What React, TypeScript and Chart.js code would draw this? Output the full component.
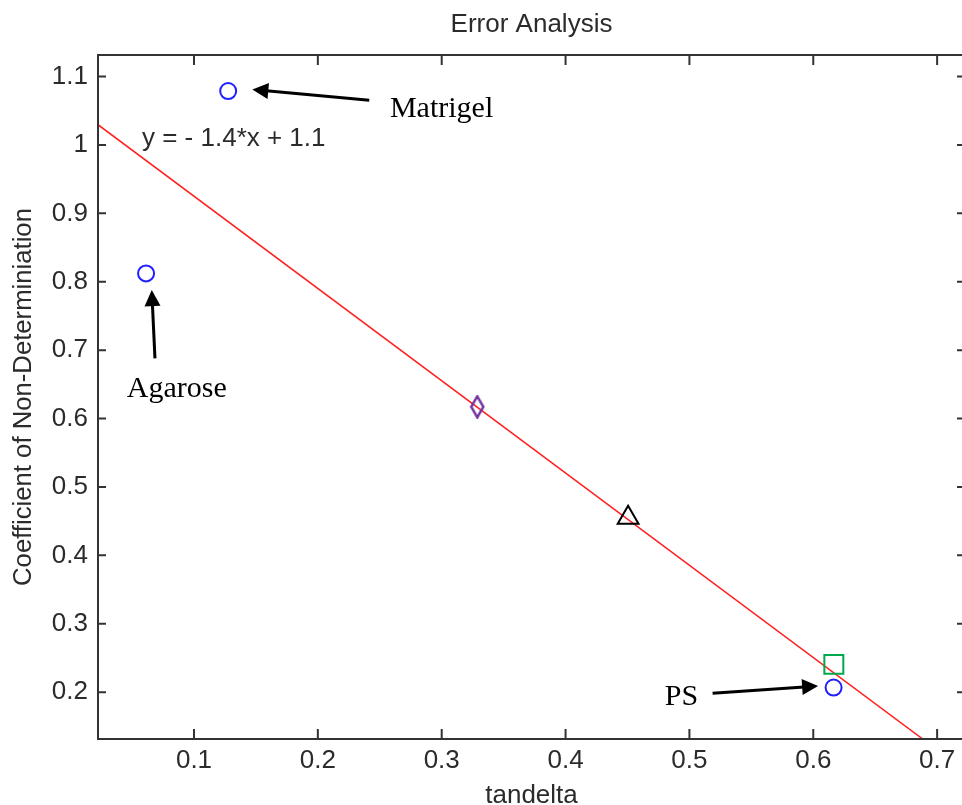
import React, { useEffect, useRef } from 'react';
import { Chart, registerables } from 'chart.js';

Chart.register(...registerables);

// ---- data ----
const xTicks = [0.1, 0.2, 0.3, 0.4, 0.5, 0.6, 0.7];
const xTickLabels = ['0.1', '0.2', '0.3', '0.4', '0.5', '0.6', '0.7'];
const yTicks = [0.2, 0.3, 0.4, 0.5, 0.6, 0.7, 0.8, 0.9, 1.0, 1.1];
const yTickLabels = ['0.2', '0.3', '0.4', '0.5', '0.6', '0.7', '0.8', '0.9', '1', '1.1'];

const circleX = [0.1276, 0.0613, 0.6164];
const circleY = [1.0788, 0.8122, 0.2067];
const diamondX = [0.3287];
const diamondY = [0.6172];
const triangleX = [0.4505];
const triangleY = [0.455];
const squareX = [0.6166];
const squareY = [0.2406];
const fitX = [0.0225, 0.6881];
const fitY = [1.0296, 0.1318];

const labelTexts = ['Matrigel', 'Agarose', 'PS'];
const labelX = [0.2582, 0.0457, 0.4801];
const labelY = [1.0405, 0.6319, 0.1814];
const arrowTailX = [0.2415, 0.0685, 0.5187];
const arrowTailY = [1.0654, 0.688, 0.1985];
const arrowTipX = [0.1471, 0.0659, 0.6039];
const arrowTipY = [1.081, 0.7878, 0.2091];
const equationText = 'y = - 1.4*x + 1.1';
const equationX = 0.058;
const equationY = 0.998;

const SANS = '"Liberation Sans", Arial, sans-serif';
const SERIF = '"Liberation Serif", "Times New Roman", serif';
const TEXT = '#2b2b2b';
const AXIS = '#333333';

function makeDiamond(): HTMLCanvasElement {
  const c = document.createElement('canvas');
  c.width = 16;
  c.height = 24;
  const g = c.getContext('2d')!;
  g.strokeStyle = '#7030a0';
  g.lineWidth = 2.5;
  g.beginPath();
  g.moveTo(8, 1.5);
  g.lineTo(14, 12);
  g.lineTo(8, 22.5);
  g.lineTo(2, 12);
  g.closePath();
  g.stroke();
  return c;
}

function drawArrow(ctx: CanvasRenderingContext2D, x1: number, y1: number, x2: number, y2: number) {
  const ang = Math.atan2(y2 - y1, x2 - x1);
  const hl = 16;
  const hw = 8;
  const bx = x2 - Math.cos(ang) * hl;
  const by = y2 - Math.sin(ang) * hl;
  ctx.save();
  ctx.strokeStyle = '#000';
  ctx.fillStyle = '#000';
  ctx.lineWidth = 3;
  ctx.beginPath();
  ctx.moveTo(x1, y1);
  ctx.lineTo(bx + Math.cos(ang) * 2, by + Math.sin(ang) * 2);
  ctx.stroke();
  ctx.beginPath();
  ctx.moveTo(x2, y2);
  ctx.lineTo(bx + Math.sin(ang) * hw, by - Math.cos(ang) * hw);
  ctx.lineTo(bx - Math.sin(ang) * hw, by + Math.cos(ang) * hw);
  ctx.closePath();
  ctx.fill();
  ctx.restore();
}

const framePlugin = {
  id: 'frameAndNotes',
  afterDraw(chart: any) {
    const { ctx, chartArea } = chart;
    const xs = chart.scales.x;
    const ys = chart.scales.y;
    const { left, right, top, bottom } = chartArea;
    ctx.save();
    ctx.strokeStyle = AXIS;
    ctx.lineWidth = 2;
    ctx.strokeRect(left, top, right - left, bottom - top);
    ctx.beginPath();
    xTicks.forEach((v) => {
      const px = xs.getPixelForValue(v);
      ctx.moveTo(px, bottom);
      ctx.lineTo(px, bottom - 10);
      ctx.moveTo(px, top);
      ctx.lineTo(px, top + 10);
    });
    yTicks.forEach((v) => {
      const py = ys.getPixelForValue(v);
      ctx.moveTo(left, py);
      ctx.lineTo(left + 8, py);
      ctx.moveTo(right, py);
      ctx.lineTo(right - 8, py);
    });
    ctx.stroke();

    // equation
    ctx.fillStyle = TEXT;
    ctx.font = `26px ${SANS}`;
    ctx.textAlign = 'left';
    ctx.textBaseline = 'alphabetic';
    ctx.fillText(equationText, xs.getPixelForValue(equationX), ys.getPixelForValue(equationY));

    // labels
    ctx.fillStyle = '#000';
    ctx.font = `30px ${SERIF}`;
    labelTexts.forEach((t, i) => {
      ctx.fillText(t, xs.getPixelForValue(labelX[i]), ys.getPixelForValue(labelY[i]));
    });

    // arrows
    arrowTailX.forEach((_, i) => {
      drawArrow(
        ctx,
        xs.getPixelForValue(arrowTailX[i]),
        ys.getPixelForValue(arrowTailY[i]),
        xs.getPixelForValue(arrowTipX[i]),
        ys.getPixelForValue(arrowTipY[i])
      );
    });
    ctx.restore();
  },
};

export default function App() {
  const ref = useRef<HTMLCanvasElement | null>(null);

  useEffect(() => {
    if (!ref.current) return;
    const pts = (xa: number[], ya: number[]) => xa.map((x, i) => ({ x, y: ya[i] }));
    const chart = new Chart(ref.current, {
      type: 'scatter',
      data: {
        datasets: [
          {
            label: 'circles',
            data: pts(circleX, circleY),
            pointStyle: 'circle',
            pointRadius: 8,
            borderColor: '#2020ff',
            backgroundColor: 'rgba(0,0,0,0)',
            borderWidth: 2,
          },
          {
            label: 'diamond',
            data: pts(diamondX, diamondY),
            pointStyle: makeDiamond(),
            pointRadius: 10,
          },
          {
            label: 'triangle',
            data: pts(triangleX, triangleY),
            pointStyle: 'triangle',
            pointRadius: 12,
            borderColor: '#000',
            backgroundColor: 'rgba(0,0,0,0)',
            borderWidth: 2,
          },
          {
            label: 'square',
            data: pts(squareX, squareY),
            pointStyle: 'rect',
            pointRadius: 13.4,
            borderColor: '#00a850',
            backgroundColor: 'rgba(0,0,0,0)',
            borderWidth: 2,
          },
          {
            label: 'fit',
            data: pts(fitX, fitY),
            showLine: true,
            pointRadius: 0,
            borderColor: '#ff2020',
            borderWidth: 1.5,
          },
        ],
      },
      options: {
        animation: false,
        responsive: false,
        layout: { autoPadding: false, padding: { left: 0, right: 10, top: 0, bottom: 0 } },
        plugins: {
          legend: { display: false },
          tooltip: { enabled: false },
          title: {
            display: true,
            text: 'Error Analysis',
            fullSize: false,
            color: TEXT,
            font: { family: SANS, size: 26, weight: 'normal' },
            padding: { top: 9.4, bottom: 14.4 },
          },
        },
        scales: {
          x: {
            type: 'linear',
            min: 0.0225,
            max: 0.7225,
            afterBuildTicks: (s: any) => {
              s.ticks = xTicks.map((v) => ({ value: v }));
            },
            afterFit: (s: any) => {
              s.height = 66;
              s.paddingLeft = 0;
              s.paddingRight = 0;
            },
            grid: { display: false, drawTicks: false },
            border: { display: false },
            ticks: {
              color: TEXT,
              font: { family: SANS, size: 26 },
              padding: 6,
              maxRotation: 0,
              autoSkip: false,
              callback: (_v: any, i: number) => xTickLabels[i],
            },
            title: {
              display: true,
              text: 'tandelta',
              color: TEXT,
              font: { family: SANS, size: 26, lineHeight: 0.7 },
              padding: { top: 0, bottom: 0 },
            },
          },
          y: {
            type: 'linear',
            min: 0.1315,
            max: 1.1315,
            afterBuildTicks: (s: any) => {
              s.ticks = yTicks.map((v) => ({ value: v }));
            },
            afterFit: (s: any) => {
              s.width = 98;
              s.paddingTop = 0;
              s.paddingBottom = 0;
            },
            grid: { display: false, drawTicks: false },
            border: { display: false },
            ticks: {
              color: TEXT,
              font: { family: SANS, size: 26 },
              padding: 10,
              autoSkip: false,
              callback: (_v: any, i: number) => yTickLabels[i],
            },
            title: {
              display: true,
              text: 'Coefficient of Non-Determiniation',
              color: TEXT,
              font: { family: SANS, size: 25.7 },
              padding: { top: 8.6, bottom: 0 },
            },
          },
        },
      } as any,
      plugins: [framePlugin],
    });
    return () => chart.destroy();
  }, []);

  return (
    <div
      style={{
        position: 'fixed',
        left: 0,
        top: 0,
        width: 962,
        height: 805,
        overflow: 'hidden',
        background: '#fff',
      }}
    >
      <canvas ref={ref} width={975} height={805} style={{ display: 'block', width: 975, height: 805 }} />
    </div>
  );
}
